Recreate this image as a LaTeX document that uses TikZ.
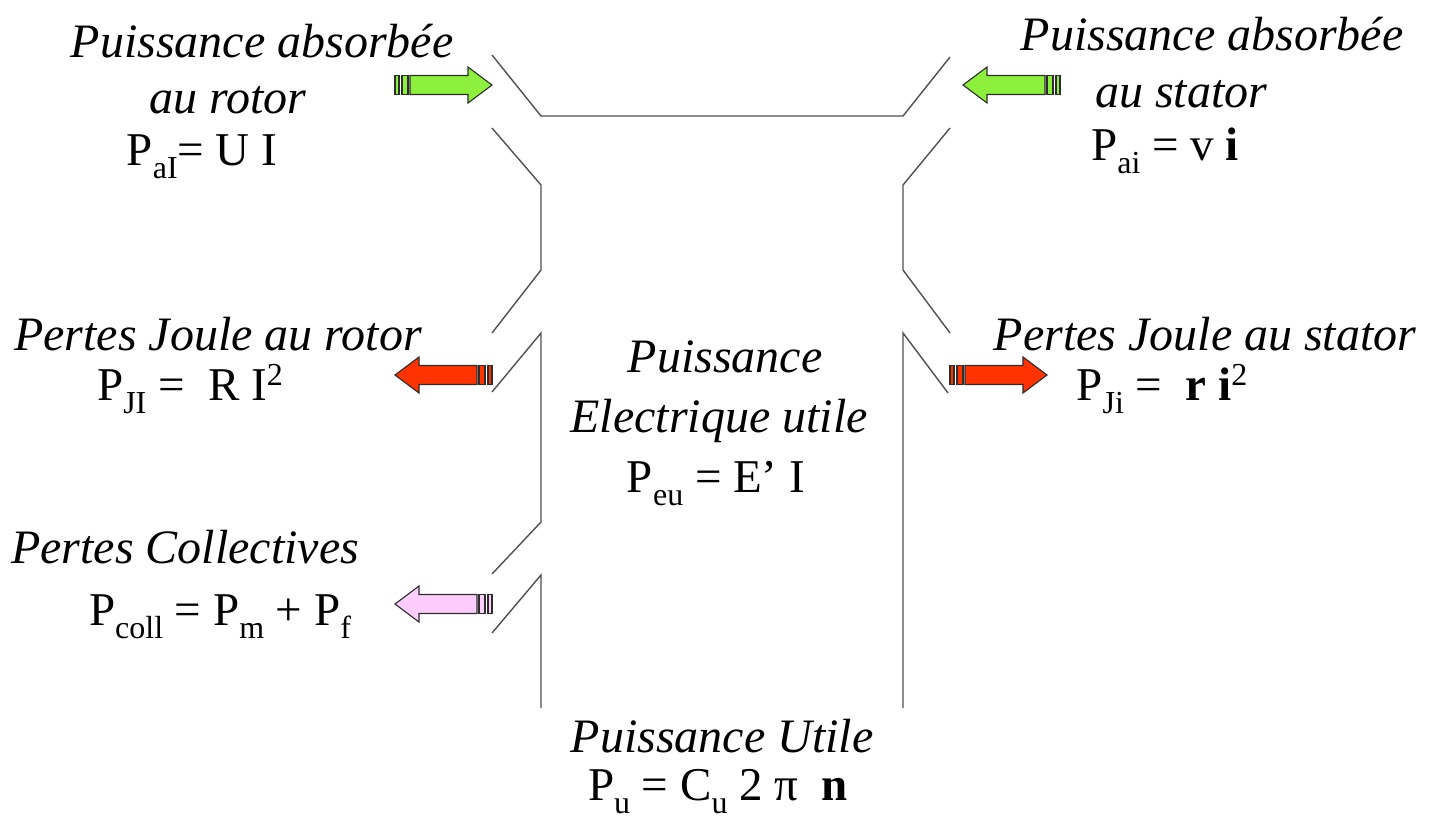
\documentclass[tikz,border=0pt]{standalone}
\usepackage{fontspec}
\setmainfont{Liberation Serif}
\definecolor{greenA}{RGB}{140,240,60}
\definecolor{redA}{RGB}{255,51,0}
\definecolor{pinkA}{RGB}{255,204,255}
\definecolor{edgeA}{RGB}{45,45,45}
\definecolor{lineA}{RGB}{80,80,80}
\newcommand\lowsub[1]{\raisebox{-0.28em}{\fontsize{32}{32}\selectfont #1}}
\newcommand\highsup[1]{\raisebox{0.3em}{\fontsize{32}{32}\selectfont #1}}
\tikzset{
  lbl/.style={anchor=base,inner sep=0pt,font=\fontsize{48}{52}\selectfont\itshape},
  frm/.style={anchor=base,inner sep=0pt,font=\fontsize{47}{50}\selectfont},
  wall/.style={draw=lineA,line width=1.4pt},
  pics/barrow/.style={code={
    \filldraw[fill=#1,draw=edgeA,line width=1.1pt,line join=miter]
      (0,0) -- (-24,-18) -- (-24,-9.5) -- (-82,-9.5) -- (-82,9.5) -- (-24,9.5) -- (-24,18) -- cycle;
    \filldraw[fill=#1,draw=edgeA,line width=1.1pt] (-90,-9.5) rectangle (-84,9.5);
    \filldraw[fill=#1,draw=edgeA,line width=1.1pt] (-97,-9.5) rectangle (-93,9.5);
  }}
}
\begin{document}
\begin{tikzpicture}[x=1pt,y=-1pt]
\useasboundingbox (0,0) rectangle (1439,823);
% walls
\draw[wall] (492,55) -- (541,116) -- (903,116) -- (950,57);
\draw[wall] (492,128) -- (541,185) -- (541,270) -- (492,333);
\draw[wall] (492,392) -- (541,333) -- (541,522) -- (492,574);
\draw[wall] (492,633) -- (541,575) -- (541,708);
\draw[wall] (950,128) -- (903,185) -- (903,270) -- (950,333);
\draw[wall] (948,393) -- (903,333) -- (903,708);
% arrows
\pic at (492,85) {barrow=greenA};
\pic[xscale=-1] at (963,85) {barrow=greenA};
\pic[xscale=-1] at (395,375) {barrow=redA};
\pic at (1047,375) {barrow=redA};
\pic[xscale=-1] at (395,604) {barrow=pinkA};
% texts left top
\node[lbl] (t1) at (262,57) {Puissance absorbée};
\node[lbl] (t2) at (228,113) {au rotor};
\node[frm] (f1) at (202,165) {P\lowsub{aI}= U I};
% right top
\node[lbl] (t3) at (1212,50) {Puissance absorbée};
\node[lbl] (t4) at (1181,107) {au stator};
\node[frm] (f2) at (1165,160) {P\lowsub{ai} = v \textbf{i}};
% joule
\node[lbl] (t5) at (218,350) {Pertes Joule au rotor};
\node[lbl] (t6) at (1205,350) {Pertes Joule au stator};
\node[frm] (f3) at (190,400) {P\lowsub{JI} =\ \ R I\highsup{2}};
\node[frm] (f4) at (1162,400) {P\lowsub{Ji} =\ \ \textbf{r i}\highsup{2}};
% center
\node[lbl] (t7) at (725,372) {Puissance};
\node[lbl] (t8) at (719,432) {Electrique utile};
\node[frm] (f5) at (716,492) {P\lowsub{eu} = E’ I};
% collectives
\node[lbl] (t9) at (185,563) {Pertes Collectives};
\node[frm] (f6) at (220,625) {P\lowsub{coll} = P\lowsub{m} + P\lowsub{f}};
% bottom
\node[lbl] (t10) at (722,752) {Puissance Utile};
\node[frm] (f7) at (718,800) {P\lowsub{u} = C\lowsub{u} 2 π\ \ \textbf{n}};
\end{tikzpicture}
\end{document}
